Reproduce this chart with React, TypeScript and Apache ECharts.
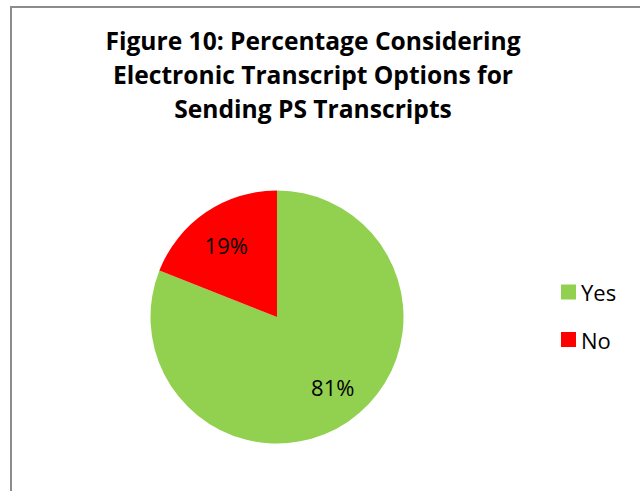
import { useEffect, useRef } from "react";
import * as echarts from "echarts";

const categories = ["Yes", "No"];
const values = [81, 19];
const colors = ["#92D050", "#FF0000"];
const titleLines = [
  "Figure 10: Percentage Considering",
  "Electronic Transcript Options for",
  "Sending PS Transcripts",
];

const FONT = "Open Sans";
const labelOffsets: [number, number][] = [
  [5, -5],
  [0, 3],
];

export default function App() {
  const ref = useRef<HTMLDivElement>(null);
  useEffect(() => {
    const chart = echarts.init(ref.current!, null, { renderer: "svg" });
    const data = categories.map((name, i) => ({
      name,
      value: values[i],
      itemStyle: { color: colors[i] },
    }));
    const labelData = categories.map((name, i) => ({
      name,
      value: values[i],
      itemStyle: { color: "rgba(0,0,0,0)" },
      label: { offset: labelOffsets[i] },
    }));
    chart.setOption({
      animation: false,
      backgroundColor: "#ffffff",
      graphic: [
        {
          type: "rect",
          silent: true,
          z: -10,
          shape: { x: 11, y: 7, width: 700, height: 600 },
          style: { fill: "none", stroke: "#8c8c8c", lineWidth: 2 },
        },
        {
          type: "text",
          x: 313,
          y: 23,
          style: {
            text: titleLines.join("\n"),
            textAlign: "center",
            textVerticalAlign: "top",
            fontFamily: FONT,
            fontWeight: "bold",
            fontSize: 24.6,
            lineHeight: 34.3,
            fill: "#000000",
          },
        },
      ],
      legend: {
        data: categories,
        orient: "vertical",
        left: 556,
        top: 276,
        itemWidth: 15,
        itemHeight: 15,
        itemGap: 25.5,
        icon: "rect",
        selectedMode: false,
        textStyle: {
          fontFamily: FONT,
          fontSize: 22,
          color: "#000000",
        },
      },
      series: [
        {
          type: "pie",
          center: [277, 317],
          radius: 126.5,
          startAngle: 90,
          clockwise: true,
          data,
          label: { show: false },
          labelLine: { show: false },
          emphasis: { disabled: true },
        },
        {
          type: "pie",
          center: [277, 317],
          radius: [48, 126.5],
          startAngle: 90,
          clockwise: true,
          silent: true,
          legendHoverLink: false,
          data: labelData,
          label: {
            show: true,
            position: "inside",
            formatter: "{c}%",
            fontFamily: FONT,
            fontSize: 22,
            color: "#000000",
          },
          labelLine: { show: false },
          emphasis: { disabled: true },
        },
      ],
    });
    return () => chart.dispose();
  }, []);
  return (
    <div
      ref={ref}
      style={{ position: "fixed", left: 0, top: 0, width: 640, height: 491 }}
    />
  );
}
